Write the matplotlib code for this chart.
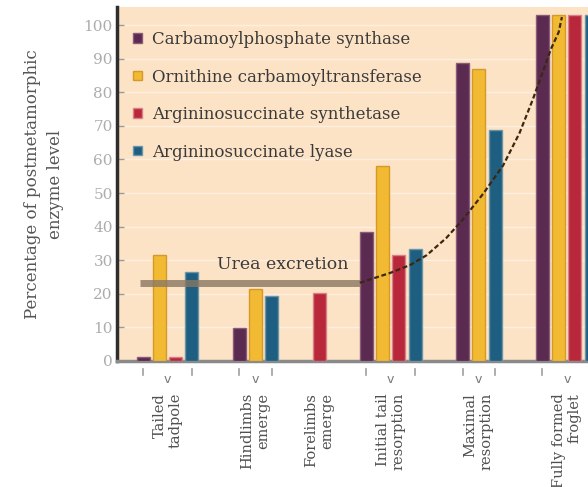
import matplotlib
matplotlib.use("Agg")
import matplotlib.pyplot as plt
import matplotlib.transforms as mtransforms

# ---------------- data ----------------
stages = ["Tailed\ntadpole", "Hindlimbs\nemerge", "Forelimbs\nemerge",
          "Initial tail\nresorption", "Maximal\nresorption", "Fully formed\nfroglet"]
enzymes = ["Carbamoylphosphate synthase", "Ornithine carbamoyltransferase",
           "Argininosuccinate synthetase", "Argininosuccinate lyase"]
cps = [1.2, 9.8, None, 38.4, 88.7, 103]
otc = [31.5, 21.4, None, 58.0, 86.9, 103]
ass = [1.2, None, 20.2, 31.5, None, 103]
asl = [26.5, 19.3, None, 33.3, 68.8, 103]
series = [cps, otc, ass, asl]
yticks = [0, 10, 20, 30, 40, 50, 60, 70, 80, 90, 100]

urea_level = 23.3
urea_label = "Urea excretion"
curve_x = [13.3, 15.15, 16.4, 17.4, 18.6, 19.6, 20.9, 22.1, 23.1, 23.9, 24.5, 25.0, 25.5, 25.7]
curve_y = [23.3, 26.2, 28.6, 31.5, 36.6, 42.0, 50.0, 58.3, 67.9, 77.7, 85.7, 92.6, 97.9, 102.4]

# ---------------- style ----------------
colors = ["#5a2a50", "#f2b933", "#b9283a", "#1e5e80"]
edgecolors = ["#8a5a78", "#d49a28", "#d8808a", "#6a96aa"]
bg = "#fde3c6"
serif = ["DejaVu Serif"]
plt.rcParams["font.family"] = serif

fig = plt.figure(figsize=(5.88, 4.87), dpi=100)
# axes extend a little past the right figure edge so the last bar is cut off
ax = fig.add_axes([117 / 588, 126 / 487, 483 / 588, 354 / 487])
ax.set_facecolor(bg)

# positions: bars packed within a stage, fixed gap between stages
gap = 2.9
pos = 0.0
group_centers = []
group_bars = []
first = True
bar_positions = [[None] * len(stages) for _ in series]
for gi in range(len(stages)):
    present = [si for si in range(len(series)) if series[si][gi] is not None]
    if not first:
        pos += gap
    xs = []
    for k, si in enumerate(present):
        if k > 0:
            pos += 1
        bar_positions[si][gi] = pos
        xs.append(pos)
    first = False
    group_centers.append((xs[0] + xs[-1]) / 2)
    group_bars.append((xs[0], xs[-1], len(xs)))

handles = []
for si, vals in enumerate(series):
    xs = [bar_positions[si][g] for g in range(len(stages)) if vals[g] is not None]
    hs = [vals[g] for g in range(len(stages)) if vals[g] is not None]
    b = ax.bar(xs, hs, width=0.8, color=colors[si], edgecolor=edgecolors[si],
               linewidth=1.0, zorder=3, label=enzymes[si])
    handles.append(b)

ax.set_xlim(-1.6, 27.3 + 12 / 16.3)
ax.set_ylim(0, 105.4)

# gridlines
for t in yticks:
    ax.axhline(t, color="white", lw=1.0, alpha=0.45, zorder=1)

# urea excretion
ax.plot([-0.2, curve_x[0]], [urea_level, urea_level], color="#8a7862", lw=5,
        alpha=0.8, solid_capstyle="butt", zorder=4)
ax.plot(curve_x, curve_y, color="#3a2810", lw=1.6, ls=(0, (2.2, 1.2)), zorder=5)
ax.text(8.6, urea_level + 5.3, urea_label, ha="center", va="center", fontsize=12.5,
        color="#3a3a3a", zorder=6)

# axes styling
for s in ["top", "right"]:
    ax.spines[s].set_visible(False)
ax.spines["left"].set_color("#2e2e2e")
ax.spines["left"].set_linewidth(2.5)
ax.spines["bottom"].set_color("#8a8a8a")
ax.spines["bottom"].set_linewidth(2.5)

ax.set_yticks(yticks)
ax.set_yticklabels([str(t) for t in yticks], fontsize=11, color="#acacac")
ax.tick_params(axis="y", direction="in", length=5, width=1, color="#9a9a9a", pad=3)

ax.set_xticks(group_centers)
ax.set_xticklabels(stages, rotation=90, fontsize=10.5, color="#505050",
                   ha="center", va="top", multialignment="right")
ax.tick_params(axis="x", length=0, pad=23)

# small marks under each multi-bar stage
trans = mtransforms.blended_transform_factory(ax.transData, ax.transAxes)
for (x0, x1, n), c in zip(group_bars, group_centers):
    if n < 2:
        continue
    for xx in (x0, x1):
        ax.plot([xx, xx], [-0.022, -0.04], color="#a0a0a0", lw=1.2,
                transform=trans, clip_on=False)
    ax.text(c, -0.035, "v", transform=trans, ha="center", va="top", fontsize=9,
            color="#777777", family=["DejaVu Sans"])

# y label
fig.text(44 / 588, 1 - 184 / 487, "Percentage of postmetamorphic\nenzyme level",
         rotation=90, ha="center", va="center", multialignment="center",
         fontsize=12, color="#555555", linespacing=1.4)

leg = ax.legend(handles=handles, loc="upper left", bbox_to_anchor=(0.034, 0.932),
                frameon=False, fontsize=12, handlelength=0.5, handleheight=0.5,
                handletextpad=0.6, labelspacing=1.23, borderpad=0, borderaxespad=0)
for t in leg.get_texts():
    t.set_color("#3a3a3a")

fig.savefig("out.png", dpi=100, facecolor="white")
